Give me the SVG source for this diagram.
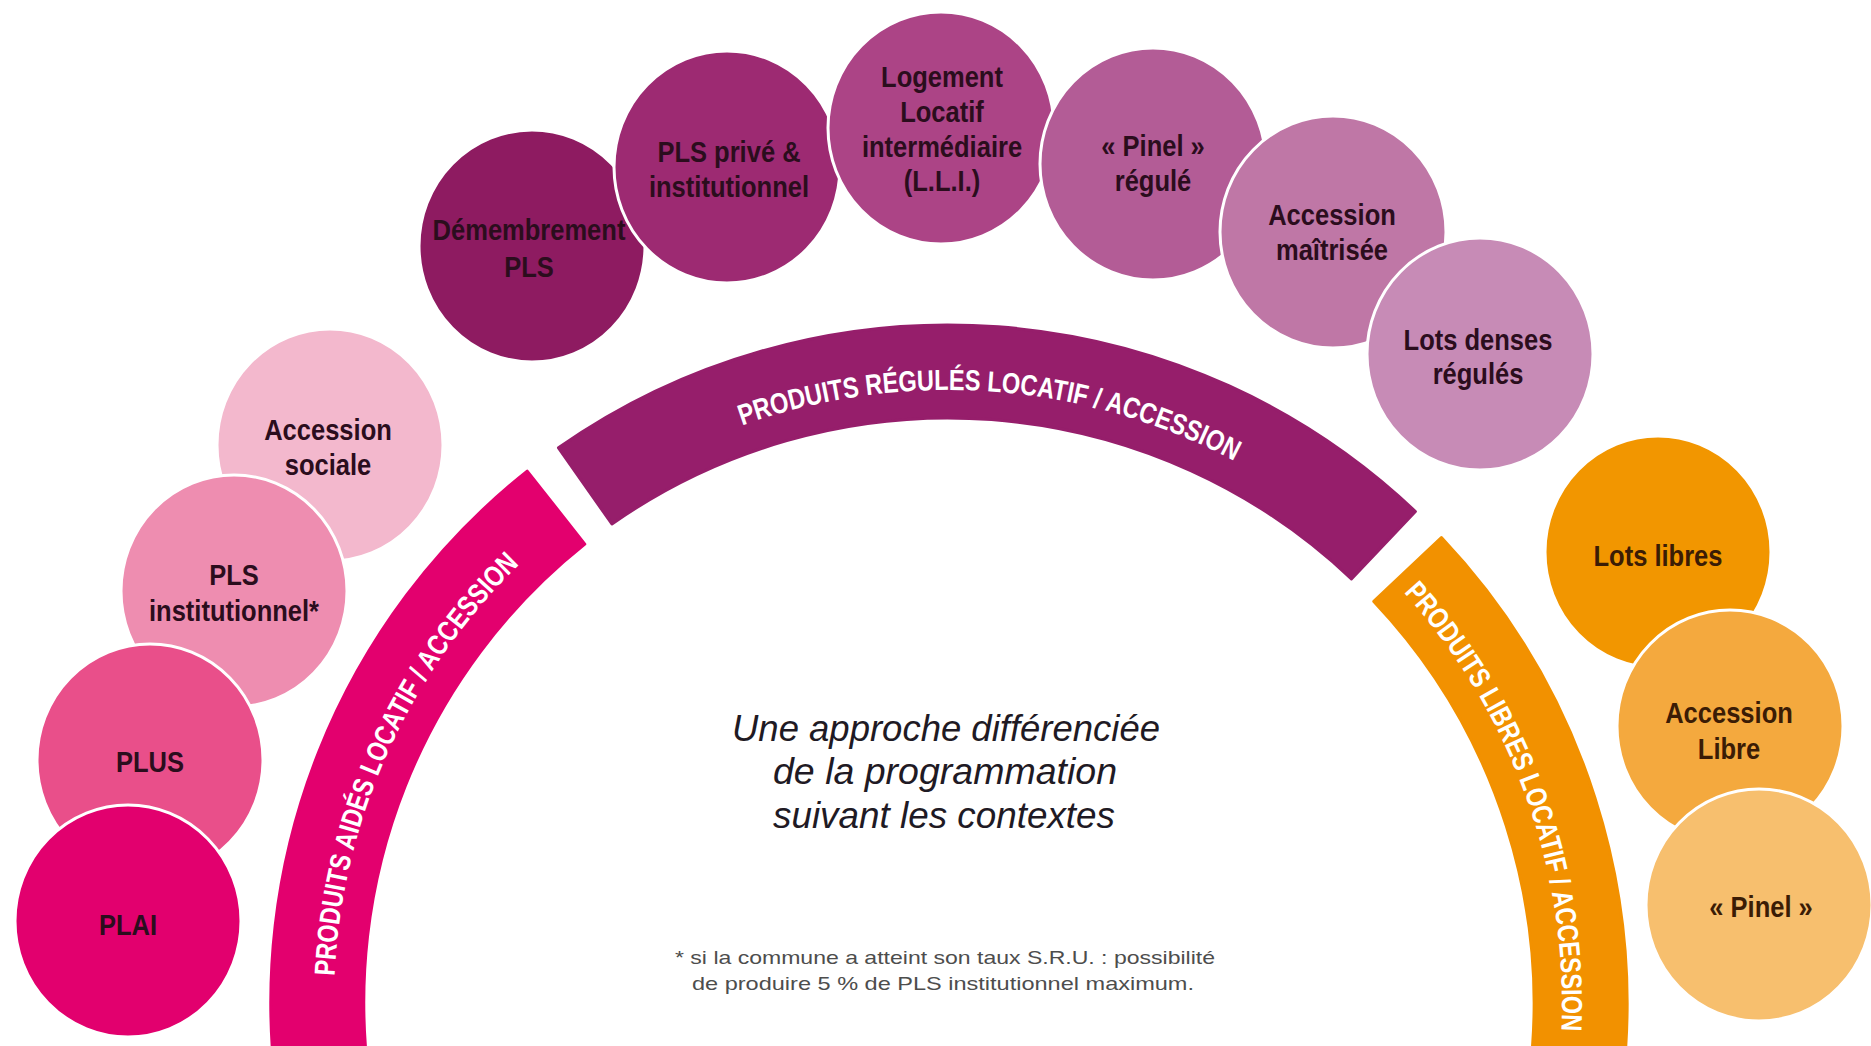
<svg xmlns="http://www.w3.org/2000/svg" xmlns:xlink="http://www.w3.org/1999/xlink" width="1871" height="1046" viewBox="0 0 1871 1046">
  <style>
    .bubble { stroke: #ffffff; stroke-width: 3; }
    .lbl { font-family: "Liberation Sans", Arial, sans-serif; font-weight: bold; font-size: 29px; text-anchor: middle; fill: #2b0d1d; }
    .lbl-o { fill: #3b1c05; }
    .band { stroke-linejoin: round; stroke-width: 3; }
    .band-txt { font-family: "Liberation Sans", Arial, sans-serif; font-weight: bold; font-size: 29px; fill: #ffffff; }
    .motto { font-family: "Liberation Sans", Arial, sans-serif; font-style: italic; font-size: 36px; text-anchor: middle; fill: #1f1a24; }
    .note { font-family: "Liberation Sans", Arial, sans-serif; font-size: 19px; text-anchor: middle; fill: #4d4d4d; }
  </style>
  <defs>
    <!-- baselines for the curved band titles, radius 614 around (948,1004) -->
    <path id="arc-aides" d="M 334.6 976.1 A 614 614 0 0 1 519.2 564.6"/>
    <path id="arc-regules" d="M 742.0 425.5 A 614 614 0 0 1 1234.4 460.9"/>
    <path id="arc-libres" d="M 1403.6 592.4 A 614 614 0 0 1 1561.4 1030.8"/>
  </defs>

  <rect width="1871" height="1046" fill="#ffffff"/>

  <!-- aided products -->
  <g id="node-accession-sociale">
    <ellipse class="bubble" cx="330" cy="445" rx="113" ry="116" fill="#f3b8cd"/>
    <text class="lbl" transform="translate(328 0) scale(0.88 1)"><tspan x="0" y="440">Accession</tspan><tspan x="0" y="475">sociale</tspan></text>
  </g>
  <g id="node-pls-institutionnel">
    <ellipse class="bubble" cx="234" cy="591" rx="113" ry="116" fill="#ee8db0"/>
    <text class="lbl" transform="translate(234 0) scale(0.88 1)"><tspan x="0" y="585">PLS</tspan><tspan x="0" y="621">institutionnel*</tspan></text>
  </g>
  <g id="node-plus">
    <ellipse class="bubble" cx="150" cy="760" rx="113" ry="116" fill="#e94f8a"/>
    <text class="lbl" transform="translate(150 0) scale(0.88 1)"><tspan x="0" y="772">PLUS</tspan></text>
  </g>
  <g id="node-plai">
    <ellipse class="bubble" cx="128" cy="921" rx="113" ry="116" fill="#e2006e"/>
    <text class="lbl" transform="translate(128 0) scale(0.88 1)"><tspan x="0" y="935">PLAI</tspan></text>
  </g>

  <!-- regulated products -->
  <g id="node-demembrement-pls">
    <ellipse class="bubble" cx="532" cy="246" rx="113" ry="116" fill="#8e1b61"/>
    <text class="lbl" transform="translate(529 0) scale(0.88 1)"><tspan x="0" y="240">Démembrement</tspan><tspan x="0" y="277">PLS</tspan></text>
  </g>
  <g id="node-pls-prive">
    <ellipse class="bubble" cx="727" cy="167" rx="113" ry="116" fill="#9d2a72"/>
    <text class="lbl" transform="translate(729 0) scale(0.88 1)"><tspan x="0" y="162">PLS privé &amp;</tspan><tspan x="0" y="197">institutionnel</tspan></text>
  </g>
  <g id="node-lli">
    <ellipse class="bubble" cx="941" cy="128" rx="113" ry="116" fill="#ac4486"/>
    <text class="lbl" transform="translate(942 0) scale(0.88 1)"><tspan x="0" y="87">Logement</tspan><tspan x="0" y="122">Locatif</tspan><tspan x="0" y="157">intermédiaire</tspan><tspan x="0" y="191">(L.L.I.)</tspan></text>
  </g>
  <g id="node-pinel-regule">
    <ellipse class="bubble" cx="1153" cy="164" rx="113" ry="116" fill="#b35c96"/>
    <text class="lbl" transform="translate(1153 0) scale(0.88 1)"><tspan x="0" y="156">« Pinel »</tspan><tspan x="0" y="191">régulé</tspan></text>
  </g>
  <g id="node-accession-maitrisee">
    <ellipse class="bubble" cx="1333" cy="232" rx="113" ry="116" fill="#bf77a6"/>
    <text class="lbl" transform="translate(1332 0) scale(0.88 1)"><tspan x="0" y="225">Accession</tspan><tspan x="0" y="260">maîtrisée</tspan></text>
  </g>
  <g id="node-lots-denses">
    <ellipse class="bubble" cx="1480" cy="354" rx="113" ry="116" fill="#c78bb6"/>
    <text class="lbl" transform="translate(1478 0) scale(0.88 1)"><tspan x="0" y="350">Lots denses</tspan><tspan x="0" y="384">régulés</tspan></text>
  </g>

  <!-- free-market products -->
  <g id="node-lots-libres">
    <ellipse class="bubble" cx="1658" cy="552" rx="113" ry="116" fill="#f29600"/>
    <text class="lbl lbl-o" transform="translate(1658 0) scale(0.88 1)"><tspan x="0" y="566">Lots libres</tspan></text>
  </g>
  <g id="node-accession-libre">
    <ellipse class="bubble" cx="1730" cy="726" rx="113" ry="116" fill="#f4a93e"/>
    <text class="lbl lbl-o" transform="translate(1729 0) scale(0.88 1)"><tspan x="0" y="723">Accession</tspan><tspan x="0" y="759">Libre</tspan></text>
  </g>
  <g id="node-pinel">
    <ellipse class="bubble" cx="1759" cy="905" rx="113" ry="116" fill="#f7bf6e"/>
    <text class="lbl lbl-o" transform="translate(1761 0) scale(0.88 1)"><tspan x="0" y="917">« Pinel »</tspan></text>
  </g>

  <!-- category bands: ring around (948,1004), radii 586..679 -->
  <g id="bands">
    <g id="band-aides">
      <path class="band" fill="#e3006e" stroke="#e3006e" d="M 277.6 1098.5 A 679 679 0 0 1 527.2 471.1 L 584.8 544.1 A 586 586 0 0 0 369.7 1085.6 Z"/>
      <text class="band-txt"><textPath xlink:href="#arc-aides" href="#arc-aides" textLength="462" lengthAdjust="spacingAndGlyphs">PRODUITS AIDÉS LOCATIF / ACCESSION</textPath></text>
    </g>
    <g id="band-regules">
      <path class="band" fill="#961e6b" stroke="#961e6b" d="M 558.5 447.8 A 679 679 0 0 1 1415.4 511.5 L 1351.4 578.9 A 586 586 0 0 0 611.9 524.0 Z"/>
      <text class="band-txt"><textPath xlink:href="#arc-regules" href="#arc-regules" textLength="508" lengthAdjust="spacingAndGlyphs">PRODUITS RÉGULÉS LOCATIF / ACCESSION</textPath></text>
    </g>
    <g id="band-libres">
      <path class="band" fill="#f29100" stroke="#f29100" d="M 1441.4 537.5 A 679 679 0 0 1 1620.4 1098.5 L 1528.3 1085.6 A 586 586 0 0 0 1373.8 601.4 Z"/>
      <text class="band-txt"><textPath xlink:href="#arc-libres" href="#arc-libres" textLength="478" lengthAdjust="spacingAndGlyphs">PRODUITS LIBRES LOCATIF / ACCESSION</textPath></text>
    </g>
  </g>

  <!-- central caption and footnote -->
  <g id="caption">
    <text class="motto" x="946" y="741" textLength="428" lengthAdjust="spacingAndGlyphs">Une approche différenciée</text>
    <text class="motto" x="945" y="784" textLength="344" lengthAdjust="spacingAndGlyphs">de la programmation</text>
    <text class="motto" x="944" y="828" textLength="342" lengthAdjust="spacingAndGlyphs">suivant les contextes</text>
  </g>
  <g id="footnote">
    <text class="note" x="945" y="964" textLength="540" lengthAdjust="spacingAndGlyphs">* si la commune a atteint son taux S.R.U. : possibilité</text>
    <text class="note" x="943" y="990" textLength="502" lengthAdjust="spacingAndGlyphs">de produire 5 % de PLS institutionnel maximum.</text>
  </g>
</svg>
